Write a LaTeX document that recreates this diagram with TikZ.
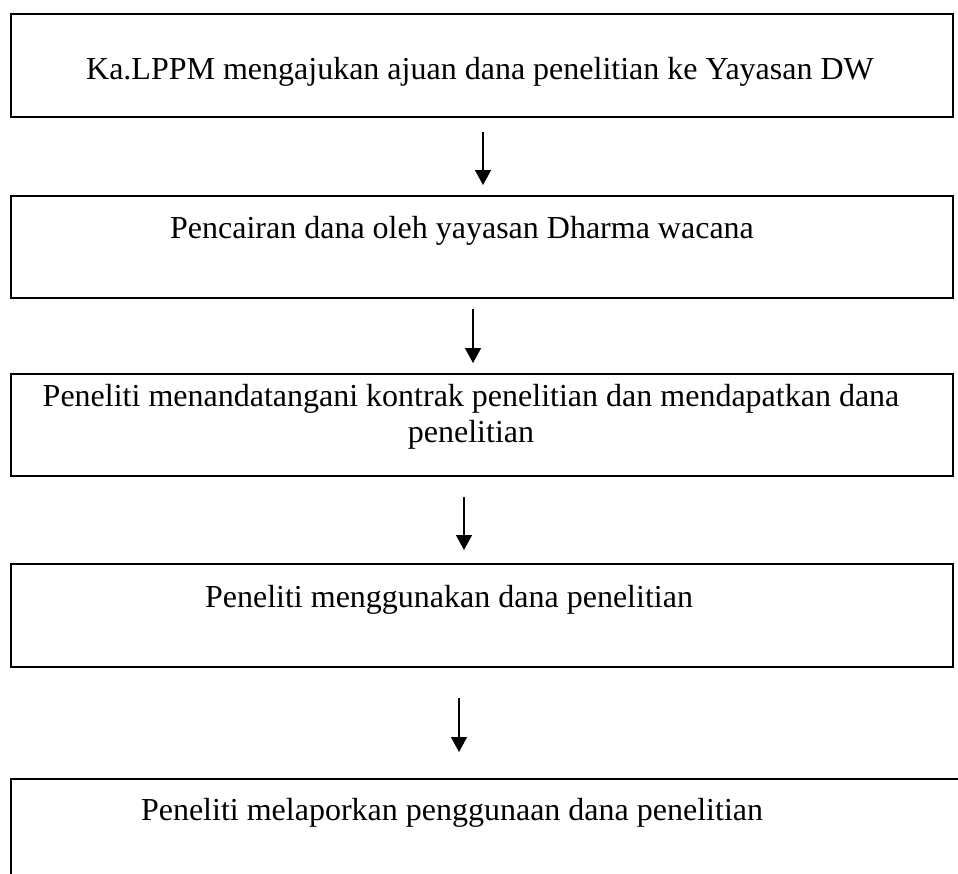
\documentclass[tikz,border=0pt]{standalone}
\usepackage{fontspec}
\setmainfont{Liberation Serif}
\usetikzlibrary{arrows.meta}
\begin{document}
\begin{tikzpicture}[x=1pt,y=-1pt]
    \tikzstyle{box}=[draw=black,line width=1.8pt,rectangle,anchor=north west,inner sep=0pt,minimum width=942pt]
    \tikzstyle{label}=[font=\fontsize{32}{36}\selectfont,align=center]
    \tikzstyle{flow}=[line width=1.5pt,-{Triangle[length=15pt,width=16pt]}]

    \useasboundingbox (0,0) rectangle (958,873);
    \clip (0,0) rectangle (958,873);

    \node[box,minimum height=103pt] at (10,13) (b1) {};
    \node[box,minimum height=102pt] at (10,195) (b2) {};
    \node[box,minimum height=102pt] at (10,373) (b3) {};
    \node[box,minimum height=103pt] at (10,563) (b4) {};
    \node[box,minimum height=140pt,minimum width=980pt] at (10,778) (b5) {};

    \node[label,anchor=base] at (480,79) (t1) {Ka.LPPM mengajukan ajuan dana penelitian ke Yayasan DW};
    \node[label,anchor=base] at (462,238) (t2) {Pencairan dana oleh yayasan Dharma wacana};
    \node[label] at (471,417) (t3) {Peneliti menandatangani kontrak penelitian dan mendapatkan dana\\penelitian};
    \node[label,anchor=base] at (449,607) (t4) {Peneliti menggunakan dana penelitian};
    \node[label,anchor=base] at (452,820) (t5) {Peneliti melaporkan penggunaan dana penelitian};

    \coordinate (a1) at (483,132);
    \coordinate (a2) at (483,185);
    \coordinate (a3) at (473,309);
    \coordinate (a4) at (473,363);
    \coordinate (a5) at (464,497);
    \coordinate (a6) at (464,550);
    \coordinate (a7) at (459,698);
    \coordinate (a8) at (459,752);

    \draw[flow] (a1) -- (a2);
    \draw[flow] (a3) -- (a4);
    \draw[flow] (a5) -- (a6);
    \draw[flow] (a7) -- (a8);
\end{tikzpicture}
\end{document}
